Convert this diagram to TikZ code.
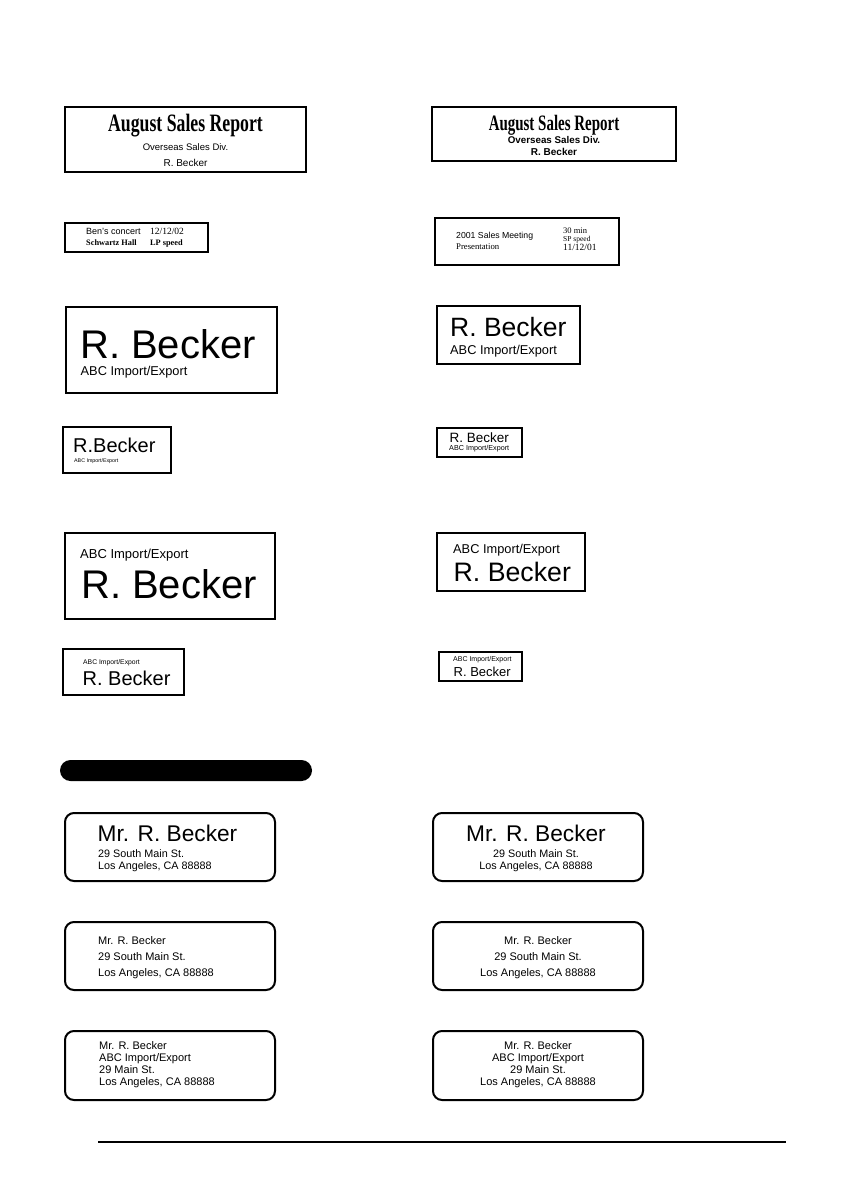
\documentclass[tikz,border=0pt]{standalone}
\usepackage{fontspec}
\usepackage{graphicx}
\setmainfont{Liberation Sans}
\newfontfamily\serifx{Liberation Serif}
\newcommand{\fs}[1]{\fontsize{#1}{#1}\selectfont}
\begin{document}
\begin{tikzpicture}[x=1pt,y=-1pt,
  frame/.style={draw=black,line width=2.4pt},
  rframe/.style={draw=black,line width=2pt,rounded corners=9pt},
  tl/.style={inner sep=0pt,anchor=base west},
  tc/.style={inner sep=0pt,anchor=base}]
\useasboundingbox (0,0) rectangle (843,1193);
% ---------- row 1
\draw[frame] (65,107) rectangle (306,172);
\node[tc] (a1) at (185.5,132) {\serifx\bfseries\fs{25}\scalebox{0.71}[1]{August Sales Report}};
\node[tc] (a2) at (185.5,151) {\fs{9.5}Overseas Sales Div.};
\node[tc] (a3) at (185.5,167) {\fs{10}R. Becker};
\draw[frame] (432,107) rectangle (676,161);
\node[tc] (b1) at (554,131) {\serifx\bfseries\fs{22}\scalebox{0.68}[1]{August Sales Report}};
\node[tc] (b2) at (554,143.5) {\fs{9.8}\bfseries Overseas Sales Div.};
\node[tc] (b3) at (554,156) {\fs{10}\bfseries R. Becker};
% ---------- row 2
\draw[frame] (65,223) rectangle (208,252);
\node[tl] (c1) at (86,234) {\fs{9}Ben's concert};
\node[tl] (c2) at (150,234) {\serifx\fs{9.5}12/12/02};
\node[tl] (c3) at (86,245) {\serifx\bfseries\fs{8.3}Schwartz Hall};
\node[tl] (c4) at (150,245) {\serifx\bfseries\fs{8.3}LP speed};
\draw[frame] (435,218) rectangle (619,265);
\node[tl] (d1) at (456,238) {\fs{8.7}2001 Sales Meeting};
\node[tl] (d2) at (456,249.5) {\serifx\fs{8.7}Presentation};
\node[tl] (d3) at (563,233) {\serifx\fs{8.5}30 min};
\node[tl] (d4) at (563,241.5) {\serifx\fs{7.5}SP speed};
\node[tl] (d5) at (563,250.5) {\serifx\fs{9.5}11/12/01};
% ---------- row 3
\draw[frame] (66,307) rectangle (277,393);
\node[tl,text depth=0pt] (e1) at (80,358) {\fs{40}R. Becker};
\node[tl,text height=9.2pt] (e2) at (80.5,375) {\fs{12.8}ABC Import/Export};
\draw[frame] (437,306) rectangle (580,364);
\node[tl,text depth=0pt] (f1) at (450,336) {\fs{26.5}R. Becker};
\node[tl,text height=9.2pt] (f2) at (450,354) {\fs{12.8}ABC Import/Export};
% ---------- row 4
\draw[frame] (63,427) rectangle (171,473);
\node[tl,text depth=0pt] (g1) at (73,452) {\fs{20}R.Becker};
\node[tl] (g2) at (74,462.5) {\fs{5.3}ABC Import/Export};
\draw[frame] (437,428) rectangle (522,457);
\node[tl,text depth=0pt] (h1) at (449.5,442.5) {\fs{13.5}R. Becker};
\node[tl] (h2) at (449,450.5) {\fs{7.2}ABC Import/Export};
% ---------- row 5
\draw[frame] (65,533) rectangle (275,619);
\node[tl,text depth=0pt] (i1) at (80,558) {\fs{13}ABC Import/Export};
\node[tl] (i2) at (81,598) {\fs{40}R. Becker};
\draw[frame] (437,533) rectangle (585,591);
\node[tl,text depth=0pt] (j1) at (453,553) {\fs{12.8}ABC Import/Export};
\node[tl] (j2) at (453.5,581) {\fs{26.7}R. Becker};
% ---------- row 6
\draw[frame] (63,649) rectangle (184,695);
\node[tl,text depth=0pt] (k1) at (83,664) {\fs{6.8}ABC Import/Export};
\node[tl] (k2) at (82.5,685) {\fs{20}R. Becker};
\draw[frame] (439,652) rectangle (522,681);
\node[tl,text depth=0pt] (l1) at (453,661) {\fs{7}ABC Import/Export};
\node[tl] (l2) at (453.5,676.5) {\fs{13}R. Becker};
% ---------- black bar
\fill[black,rounded corners=10.5pt] (60,760) rectangle (312,781);
% ---------- rounded labels, row 1
\draw[rframe] (65,813) rectangle (275,881);
\node[tl] (m1) at (97.5,841) {\fs{22.7}Mr. R. Becker};
\node[tl] (m2) at (98,857) {\fs{10.8}29 South Main St.};
\node[tl] (m3) at (98,869) {\fs{10.8}Los Angeles, CA 88888};
\draw[rframe] (433,813) rectangle (643,881);
\node[tc] (n1) at (536,841) {\fs{22.7}Mr. R. Becker};
\node[tc] (n2) at (536,857) {\fs{10.8}29 South Main St.};
\node[tc] (n3) at (536,869) {\fs{10.8}Los Angeles, CA 88888};
% ---------- row 2
\draw[rframe] (65,922) rectangle (275,990);
\node[tl] (o1) at (98,944) {\fs{11}Mr. R. Becker};
\node[tl] (o2) at (98,960) {\fs{11}29 South Main St.};
\node[tl] (o3) at (98,976) {\fs{11}Los Angeles, CA 88888};
\draw[rframe] (433,922) rectangle (643,990);
\node[tc] (p1) at (538,944) {\fs{11}Mr. R. Becker};
\node[tc] (p2) at (538,960) {\fs{11}29 South Main St.};
\node[tc] (p3) at (538,976) {\fs{11}Los Angeles, CA 88888};
% ---------- row 3
\draw[rframe] (65,1031) rectangle (275,1100);
\node[tl] (q1) at (99,1049.5) {\fs{11}Mr. R. Becker};
\node[tl] (q2) at (99,1061.5) {\fs{11}ABC Import/Export};
\node[tl] (q3) at (99,1073.5) {\fs{11}29 Main St.};
\node[tl] (q4) at (99,1085.5) {\fs{11}Los Angeles, CA 88888};
\draw[rframe] (433,1031) rectangle (643,1100);
\node[tc] (r1) at (538,1049.5) {\fs{11}Mr. R. Becker};
\node[tc] (r2) at (538,1061.5) {\fs{11}ABC Import/Export};
\node[tc] (r3) at (538,1073.5) {\fs{11}29 Main St.};
\node[tc] (r4) at (538,1085.5) {\fs{11}Los Angeles, CA 88888};
% ---------- bottom rule
\draw[line width=2.8pt] (98,1142) -- (786,1142);
\end{tikzpicture}
\end{document}
